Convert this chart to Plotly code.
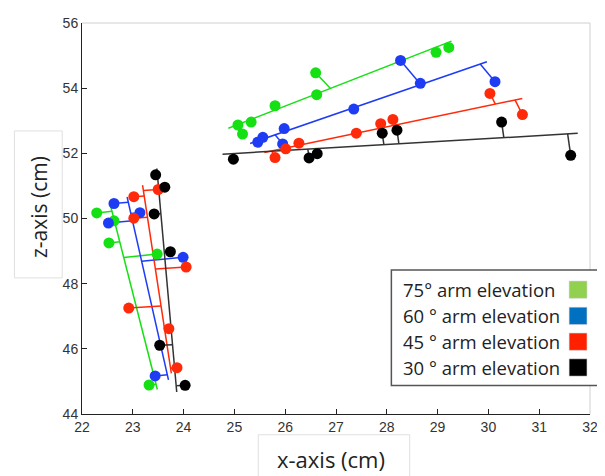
import numpy as np
import plotly.graph_objects as go

# ---- data (x, z in cm) ----
labels = ["75° arm elevation", "60 ° arm elevation", "45 ° arm elevation", "30 ° arm elevation"]

g_left_x = [22.29, 22.63, 22.53, 23.48, 23.32]
g_left_z = [50.17, 49.93, 49.25, 48.91, 44.89]
g_right_x = [25.07, 25.33, 25.16, 25.80, 26.60, 26.62, 28.97, 29.22]
g_right_z = [52.87, 52.96, 52.59, 53.46, 54.47, 53.80, 55.10, 55.25]

b_left_x = [22.63, 22.52, 23.14, 23.99, 23.44]
b_left_z = [50.46, 49.86, 50.18, 48.81, 45.17]
b_right_x = [25.46, 25.56, 25.98, 25.95, 27.35, 28.27, 28.66, 30.13]
b_right_z = [52.34, 52.49, 52.76, 52.29, 53.36, 54.85, 54.15, 54.20]

r_left_x = [23.02, 23.02, 23.50, 24.05, 22.92, 23.71, 23.87]
r_left_z = [50.67, 50.01, 50.89, 48.51, 47.25, 46.62, 45.42]
r_right_x = [25.80, 26.01, 26.27, 27.40, 27.88, 28.12, 30.03, 30.67]
r_right_z = [51.87, 52.14, 52.31, 52.62, 52.91, 53.04, 53.84, 53.19]

k_left_x = [23.45, 23.63, 23.42, 23.74, 23.53, 24.03]
k_left_z = [51.34, 50.96, 50.14, 48.98, 46.11, 44.88]
k_right_x = [24.98, 26.47, 26.63, 27.91, 28.20, 30.26, 31.62]
k_right_z = [51.82, 51.86, 51.99, 52.62, 52.71, 52.96, 51.94]

x_ticks = list(range(22, 33))
z_ticks = list(range(44, 57, 2))

series = [
    (g_left_x, g_left_z, g_right_x, g_right_z, "#14e014", "#92d050"),
    (b_left_x, b_left_z, b_right_x, b_right_z, "#1f3cf5", "#0070c0"),
    (r_left_x, r_left_z, r_right_x, r_right_z, "#ff2a0a", "#ff2000"),
    (k_left_x, k_left_z, k_right_x, k_right_z, "#000000", "#000000"),
]


def tls(xs, zs, ext=0.03):
    P = np.column_stack([xs, zs]).astype(float)
    c = P.mean(axis=0)
    _, _, vt = np.linalg.svd(P - c)
    d = vt[0]
    t = (P - c) @ d
    proj = c + np.outer(t, d)
    lo, hi = t.min(), t.max()
    span = hi - lo
    ends = np.array([c + (lo - ext * span) * d, c + (hi + ext * span) * d])
    return ends, proj


fig = go.Figure()
for lx, lz, rx, rz, col, _ in series:
    line_col = "#333333" if col == "#000000" else col
    for xs, zs in ((lx, lz), (rx, rz)):
        ends, proj = tls(xs, zs)
        fig.add_trace(go.Scatter(x=ends[:, 0], y=ends[:, 1], mode="lines",
                                 line=dict(color=line_col, width=1.5),
                                 showlegend=False, hoverinfo="skip"))
        sx, sz = [], []
        for (px, pz), (qx, qz) in zip(zip(xs, zs), proj):
            sx += [px, qx, None]
            sz += [pz, qz, None]
        fig.add_trace(go.Scatter(x=sx, y=sz, mode="lines",
                                 line=dict(color=line_col, width=1.5),
                                 showlegend=False, hoverinfo="skip"))
for lx, lz, rx, rz, col, _ in series:
    fig.add_trace(go.Scatter(x=list(lx) + list(rx), y=list(lz) + list(rz), mode="markers",
                             marker=dict(color=col, size=11), showlegend=False))

# page has an 8px body margin; figure is sized/offset to compensate
fig.update_layout(
    width=597, height=468,
    margin=dict(l=74, r=13, t=7, b=62),
    plot_bgcolor="white", paper_bgcolor="white",
    showlegend=False,
)
tick_font = dict(family="Arial, Liberation Sans", size=14, color="#333")
fig.update_xaxes(range=[22, 32], tickvals=x_ticks, ticks="inside", ticklen=5,
                 showgrid=False, zeroline=False, showline=True, linecolor="#222",
                 linewidth=1, tickcolor="#222", tickfont=tick_font,
                 ticklabeloverflow="allow")
fig.update_yaxes(range=[44, 56], tickvals=z_ticks, ticks="inside", ticklen=5,
                 showgrid=False, zeroline=False, showline=True, linecolor="#222",
                 linewidth=1, tickcolor="#222", tickfont=tick_font,
                 ticklabeloverflow="allow")

shapes = []
annotations = []
# light right and top frame lines
shapes.append(dict(type="line", xref="paper", yref="paper", x0=1.0, x1=1.0, y0=0, y1=1,
                   line=dict(color="#d0d0d0", width=1)))
shapes.append(dict(type="line", xref="paper", yref="paper", x0=0.0, x1=1.0, y0=1, y1=1,
                   line=dict(color="#d0d0d0", width=1)))
# legend box
shapes.append(dict(type="rect", xref="paper", yref="paper", x0=0.609, x1=1.016,
                   y0=0.073, y1=0.368, line=dict(color="#555", width=1.5), fillcolor="white"))
rows_y = [0.318, 0.251, 0.185, 0.119]
for lab, yy, s in zip(labels, rows_y, series):
    annotations.append(dict(xref="paper", yref="paper", x=0.627, y=yy, text=lab,
                            showarrow=False, xanchor="left", yanchor="middle",
                            font=dict(family="Open Sans", size=18.5, color="#222")))
    shapes.append(dict(type="rect", xref="paper", yref="paper", x0=0.959, x1=0.994,
                       y0=yy - 0.022, y1=yy + 0.022, line=dict(color="#ccc", width=0.5),
                       fillcolor=s[5]))
# axis title boxes
shapes.append(dict(type="rect", xref="paper", yref="paper", x0=0.347, x1=0.645,
                   y0=-0.16, y1=-0.053, line=dict(color="#e0e0e0", width=1), fillcolor="white"))
shapes.append(dict(type="rect", xref="paper", yref="paper", x0=-0.133, x1=-0.039,
                   y0=0.348, y1=0.724, line=dict(color="#e0e0e0", width=1), fillcolor="white"))
annotations.append(dict(xref="paper", yref="paper", x=0.49, y=-0.116, text="x-axis (cm)",
                        showarrow=False, xanchor="center", yanchor="middle",
                        font=dict(family="Open Sans", size=22, color="#222")))
annotations.append(dict(xref="paper", yref="paper", x=-0.086, y=0.53, text="z-axis (cm)",
                        showarrow=False, xanchor="center", yanchor="middle", textangle=-90,
                        font=dict(family="Open Sans", size=21, color="#222")))
fig.update_layout(shapes=shapes, annotations=annotations)

fig.write_html("out.html")
